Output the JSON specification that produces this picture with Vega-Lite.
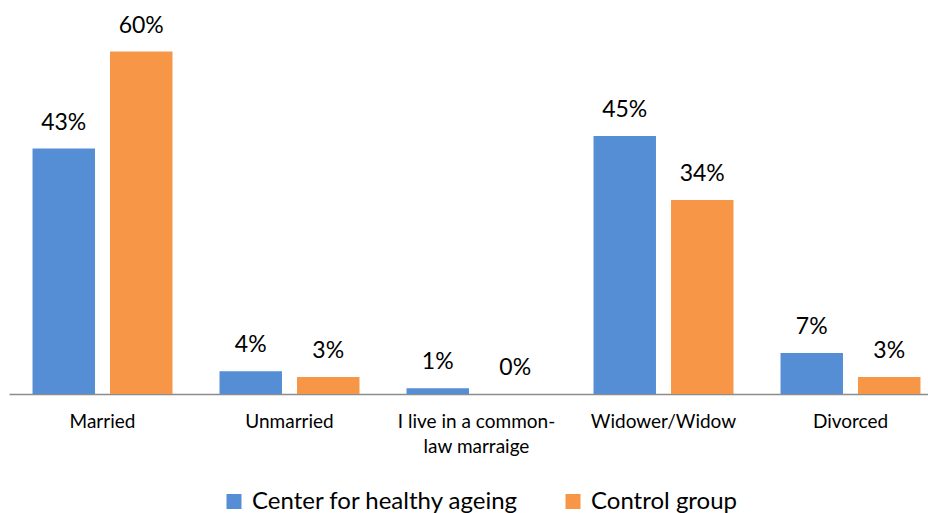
{
  "$schema": "https://vega.github.io/schema/vega-lite/v6.json",
  "autosize": "none",
  "width": 919,
  "height": 342.5,
  "padding": {"left": 9, "top": 51.5, "right": 0, "bottom": 119},
  "background": "white",
  "config": {"font": "Lato", "view": {"stroke": null}},
  "data": {"values": [
    {"category": "Married", "group": "Center for healthy ageing", "value": 43, "label": "43%"},
    {"category": "Married", "group": "Control group", "value": 60, "label": "60%"},
    {"category": "Unmarried", "group": "Center for healthy ageing", "value": 4, "label": "4%"},
    {"category": "Unmarried", "group": "Control group", "value": 3, "label": "3%"},
    {"category": "I live in a common-law marraige", "group": "Center for healthy ageing", "value": 1, "label": "1%"},
    {"category": "I live in a common-law marraige", "group": "Control group", "value": 0, "label": "0%"},
    {"category": "Widower/Widow", "group": "Center for healthy ageing", "value": 45.2, "label": "45%"},
    {"category": "Widower/Widow", "group": "Control group", "value": 34, "label": "34%"},
    {"category": "Divorced", "group": "Center for healthy ageing", "value": 7.2, "label": "7%"},
    {"category": "Divorced", "group": "Control group", "value": 3, "label": "3%"}
  ]},
  "encoding": {
    "x": {
      "field": "category", "type": "nominal", "sort": null,
      "scale": {"range": [0, 935], "paddingInner": 0, "paddingOuter": 0},
      "axis": {
        "title": null, "ticks": false, "domainColor": "#8c8c8c", "domainWidth": 1.5,
        "labelAngle": 0, "labelFontSize": 19, "labelColor": "#000000", "labelPadding": 18,
        "labelLineHeight": 25, "labelBaseline": "top",
        "labelExpr": "datum.value == 'I live in a common-law marraige' ? ['I live in a common-', 'law marraige'] : datum.value"
      }
    },
    "xOffset": {
      "field": "group", "type": "nominal",
      "scale": {"paddingInner": 0.194, "paddingOuter": 0.3035}
    },
    "y": {
      "field": "value", "type": "quantitative",
      "scale": {"domain": [0, 60], "nice": false},
      "axis": null
    }
  },
  "layer": [
    {
      "mark": {"type": "bar"},
      "encoding": {
        "color": {
          "field": "group", "type": "nominal",
          "scale": {"range": ["#558ED5", "#F79646"]},
          "legend": {
            "title": null, "orient": "none", "direction": "horizontal",
            "legendX": 213, "legendY": 438,
            "symbolType": "square", "symbolSize": 225, "symbolStrokeWidth": 0,
            "symbolOpacity": 1, "labelLimit": 500,
            "labelFontSize": 24, "labelColor": "#000000", "labelOffset": 6,
            "columnPadding": 42
          }
        }
      }
    },
    {
      "mark": {"type": "text", "baseline": "middle", "dy": -26, "fontSize": 23, "color": "#000000"},
      "encoding": {"text": {"field": "label"}}
    }
  ]
}
